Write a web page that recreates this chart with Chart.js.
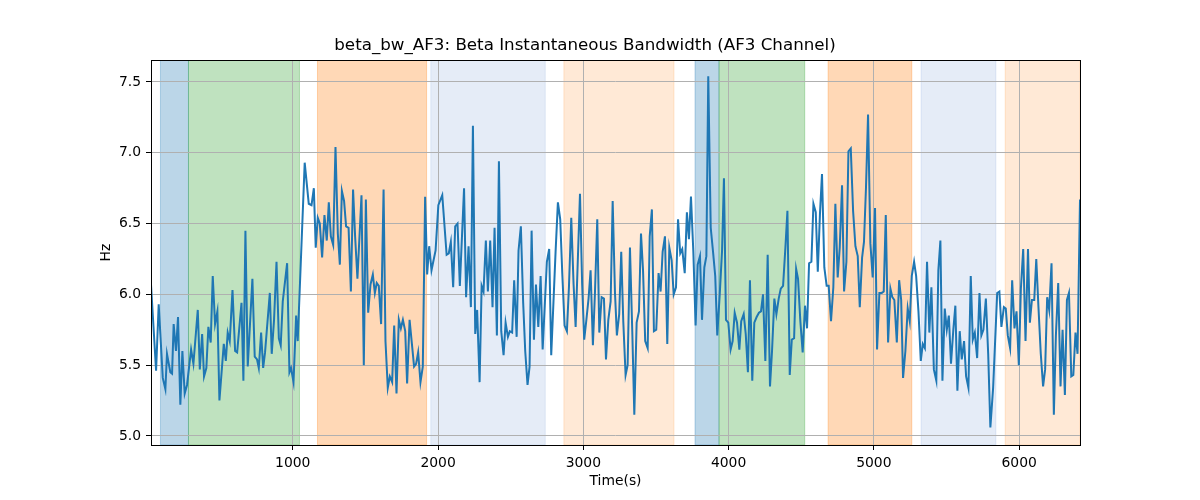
<!DOCTYPE html>
<html>
<head>
<meta charset="utf-8">
<script src="https://cdn.jsdelivr.net/npm/chart.js@4"></script>
<style>
  body { margin: 0; background: #fff; }
</style>
</head>
<body>
<canvas id="grafica" width="1200" height="500"></canvas>
<script>
// time (s) and bandwidth (Hz)
var times = [24, 59, 77, 105, 123, 134, 157, 169, 180, 196, 210, 226, 240, 256, 272, 300, 316, 346, 360, 376,
  389, 405, 419, 435, 449, 465, 481, 495, 525, 539, 552, 566, 585, 603, 617, 647, 660, 674, 690, 722,
  738, 754, 766, 782, 796, 809, 842, 855, 871, 888, 904, 917, 931, 961, 977, 988, 1005, 1023, 1034, 1082,
  1110, 1129, 1145, 1158, 1172, 1186, 1202, 1218, 1234, 1248, 1262, 1278, 1294, 1310, 1324, 1338, 1353, 1367, 1384, 1400,
  1415, 1429, 1445, 1473, 1489, 1503, 1519, 1535, 1551, 1565, 1578, 1592, 1608, 1625, 1638, 1654, 1668, 1684, 1698, 1714,
  1730, 1744, 1758, 1774, 1787, 1804, 1820, 1835, 1849, 1863, 1879, 1895, 1911, 1925, 1939, 1955, 1983, 2002, 2029, 2059,
  2074, 2088, 2104, 2118, 2134, 2150, 2179, 2193, 2210, 2226, 2240, 2256, 2269, 2286, 2300, 2313, 2329, 2343, 2359, 2375,
  2389, 2405, 2419, 2435, 2451, 2465, 2481, 2494, 2510, 2524, 2541, 2554, 2570, 2586, 2600, 2616, 2630, 2644, 2660, 2674,
  2690, 2706, 2720, 2749, 2765, 2779, 2809, 2825, 2841, 2855, 2871, 2887, 2901, 2917, 2933, 2947, 2977, 2992, 3006, 3020,
  3036, 3050, 3066, 3080, 3096, 3110, 3126, 3142, 3156, 3172, 3188, 3202, 3218, 3231, 3247, 3261, 3275, 3291, 3305, 3321,
  3337, 3351, 3367, 3383, 3397, 3411, 3426, 3443, 3457, 3472, 3486, 3502, 3518, 3532, 3546, 3562, 3578, 3592, 3608, 3622,
  3638, 3652, 3667, 3681, 3698, 3713, 3727, 3741, 3757, 3773, 3787, 3803, 3817, 3833, 3847, 3860, 3877, 3893, 3908, 3922,
  3939, 3955, 3968, 3982, 3998, 4014, 4028, 4042, 4058, 4074, 4087, 4104, 4118, 4133, 4147, 4163, 4177, 4193, 4209, 4223,
  4237, 4253, 4269, 4285, 4299, 4315, 4329, 4345, 4359, 4375, 4391, 4405, 4421, 4435, 4451, 4465, 4478, 4494, 4510, 4526,
  4540, 4554, 4570, 4584, 4600, 4614, 4629, 4643, 4659, 4675, 4689, 4705, 4721, 4735, 4751, 4765, 4781, 4795, 4811, 4825,
  4841, 4857, 4873, 4889, 4903, 4919, 4932, 4946, 4960, 4976, 4992, 5008, 5022, 5038, 5054, 5068, 5082, 5098, 5114, 5127,
  5141, 5158, 5174, 5188, 5201, 5217, 5233, 5247, 5261, 5277, 5291, 5307, 5323, 5337, 5351, 5366, 5382, 5396, 5413, 5430,
  5444, 5458, 5472, 5488, 5502, 5516, 5531, 5547, 5561, 5575, 5591, 5605, 5621, 5635, 5651, 5667, 5681, 5695, 5711, 5727,
  5740, 5754, 5771, 5787, 5802, 5821, 5849, 5864, 5878, 5895, 5908, 5922, 5938, 5952, 5968, 5982, 5998, 6012, 6028, 6044,
  6061, 6074, 6088, 6104, 6118, 6133, 6149, 6165, 6179, 6193, 6207, 6223, 6239, 6253, 6269, 6285, 6299, 6315, 6329, 6343,
  6359, 6373, 6388, 6402, 6419];
var values = [6.07, 5.46, 5.93, 5.41, 5.33, 5.58, 5.45, 5.44, 5.79, 5.60, 5.84, 5.22, 5.60, 5.30, 5.36, 5.61, 5.51, 5.89, 5.47, 5.72,
  5.42, 5.48, 5.77, 5.66, 6.13, 5.79, 5.88, 5.25, 5.65, 5.53, 5.73, 5.67, 6.03, 5.60, 5.59, 5.94, 5.39, 6.45, 5.49, 6.11,
  5.56, 5.54, 5.48, 5.73, 5.48, 5.59, 6.01, 5.58, 5.82, 6.23, 5.69, 5.64, 5.95, 6.22, 5.45, 5.48, 5.38, 5.85, 5.67, 6.93,
  6.64, 6.63, 6.75, 6.33, 6.54, 6.50, 6.26, 6.56, 6.38, 6.65, 6.41, 6.35, 7.04, 6.43, 6.21, 6.73, 6.66, 6.48, 6.47, 6.02,
  6.74, 6.41, 6.11, 6.70, 5.50, 6.67, 5.87, 6.07, 6.14, 6.01, 6.08, 6.06, 5.79, 6.74, 5.67, 5.34, 5.42, 5.38, 5.78, 5.30,
  5.82, 5.76, 5.82, 5.74, 5.37, 5.82, 5.65, 5.49, 5.51, 5.59, 5.38, 5.49, 6.69, 6.14, 6.34, 6.17, 6.31, 6.63, 6.70, 6.28,
  6.29, 6.37, 6.05, 6.48, 6.50, 6.06, 6.75, 5.98, 6.34, 5.91, 7.19, 5.72, 5.89, 5.38, 6.06, 6.02, 6.38, 6.02, 6.38, 5.91,
  6.47, 5.71, 6.94, 5.74, 5.57, 5.80, 5.70, 5.74, 5.73, 6.10, 5.70, 6.31, 6.48, 5.94, 5.60, 5.36, 5.49, 6.45, 5.68, 6.07,
  5.77, 6.13, 5.61, 6.23, 6.32, 5.57, 6.30, 6.65, 6.53, 6.15, 5.78, 5.74, 6.05, 6.54, 6.07, 5.77, 6.71, 6.07, 5.68, 5.81,
  5.97, 6.17, 5.64, 6.01, 6.53, 5.73, 5.98, 5.97, 5.54, 5.82, 5.95, 6.66, 6.01, 5.71, 5.86, 6.30, 5.81, 5.43, 5.50, 6.33,
  5.74, 5.15, 5.80, 5.88, 6.43, 6.17, 5.67, 5.62, 6.41, 6.60, 5.74, 5.75, 6.15, 6.02, 6.30, 6.41, 5.65, 6.33, 6.24, 6.00,
  6.05, 6.53, 6.29, 6.32, 6.15, 6.58, 6.39, 6.69, 6.31, 5.78, 6.21, 6.27, 5.82, 6.19, 6.27, 7.54, 6.47, 6.30, 6.13, 5.71,
  6.00, 6.31, 6.82, 5.82, 5.80, 5.61, 5.67, 5.87, 5.80, 5.61, 5.81, 5.86, 5.72, 5.45, 6.10, 5.39, 5.80, 5.84, 5.87, 5.88,
  6.00, 5.53, 6.28, 5.35, 5.60, 5.97, 5.86, 5.97, 6.04, 6.06, 6.33, 6.59, 5.43, 5.68, 5.69, 6.18, 6.11, 5.81, 5.59, 5.92,
  5.76, 6.22, 6.23, 6.64, 6.58, 6.16, 6.57, 6.85, 6.19, 6.06, 6.06, 5.81, 6.05, 6.64, 6.12, 6.33, 6.77, 6.02, 6.23, 7.01,
  7.03, 6.59, 6.34, 6.27, 5.91, 6.26, 6.37, 6.76, 7.27, 6.36, 6.12, 6.61, 5.61, 6.01, 6.01, 6.02, 6.56, 5.66, 6.04, 5.98,
  5.96, 5.66, 6.10, 5.96, 5.41, 5.60, 5.90, 5.81, 6.13, 6.23, 6.13, 5.88, 5.53, 5.65, 5.62, 6.23, 5.73, 6.05, 5.47, 5.39,
  6.17, 6.38, 5.39, 5.90, 5.75, 5.85, 5.51, 5.75, 5.92, 5.32, 5.74, 5.54, 5.67, 5.42, 5.34, 6.13, 5.68, 5.73, 5.55, 6.01,
  5.71, 5.75, 5.97, 5.58, 5.06, 5.34, 6.01, 6.02, 5.77, 5.91, 5.90, 5.71, 5.62, 6.10, 5.76, 5.88, 5.50, 6.04, 6.32, 5.67,
  6.32, 5.80, 5.96, 5.96, 6.25, 5.91, 5.58, 5.35, 5.47, 5.98, 5.89, 6.22, 5.15, 5.71, 6.08, 5.35, 5.75, 5.29, 5.96, 6.01,
  5.42, 5.43, 5.73, 5.58, 6.67];

var xTicks = [1000, 2000, 3000, 4000, 5000, 6000];
var yTicks = [5.0, 5.5, 6.0, 6.5, 7.0, 7.5];

// shaded segments
var spanStart = [89, 282, 1170, 1950, 2866, 3769, 3934, 4685, 5325, 5904];
var spanEnd = [282, 1046, 1921, 2738, 3624, 3934, 4524, 5261, 5840, 6419];
var spanColor = [
  'rgba(31, 119, 180, 0.3)',
  'rgba(44, 160, 44, 0.3)',
  'rgba(255, 127, 14, 0.3)',
  'rgba(100, 140, 210, 0.17)',
  'rgba(255, 127, 14, 0.17)',
  'rgba(31, 119, 180, 0.3)',
  'rgba(44, 160, 44, 0.3)',
  'rgba(255, 127, 14, 0.3)',
  'rgba(100, 140, 210, 0.17)',
  'rgba(255, 127, 14, 0.17)'
];

Chart.defaults.font.family = 'DejaVu Sans';
Chart.defaults.color = '#000';

var bandas = {
  id: 'bandas',
  beforeDraw: function (chart) {
    var c = chart.ctx, a = chart.chartArea, sx = chart.scales.x;
    c.save();
    c.beginPath();
    c.rect(a.left, a.top, a.right - a.left, a.bottom - a.top);
    c.clip();
    for (var i = 0; i < spanStart.length; i++) {
      var x1 = sx.getPixelForValue(spanStart[i]);
      var x2 = sx.getPixelForValue(spanEnd[i]);
      c.fillStyle = spanColor[i];
      c.fillRect(x1, a.top, x2 - x1, a.bottom - a.top);
      c.strokeStyle = spanColor[i];
      c.lineWidth = 1;
      c.strokeRect(x1, a.top, x2 - x1, a.bottom - a.top);
    }
    c.restore();
  }
};

var marco = {
  id: 'marco',
  afterDatasetsDraw: function (chart) {
    var c = chart.ctx, a = chart.chartArea;
    c.save();
    c.strokeStyle = '#000';
    c.lineWidth = 1;
    c.strokeRect(Math.round(a.left) + 0.5, Math.round(a.top) + 0.5,
      Math.round(a.right - a.left), Math.round(a.bottom - a.top));
    c.restore();
  }
};

var ctx = document.getElementById('grafica').getContext('2d');
var myChart = new Chart(ctx, {
  type: 'line',
  data: {
    datasets: [{
      label: 'beta_bw_AF3',
      data: times.map(function (t, i) { return { x: t, y: values[i] }; }),
      borderColor: '#1f77b4',
      borderWidth: 2,
      pointRadius: 0,
      fill: false,
      tension: 0
    }]
  },
  options: {
    responsive: false,
    animation: false,
    devicePixelRatio: 1,
    layout: { padding: { left: 90, right: 120, top: 0, bottom: 0 } },
    plugins: {
      legend: { display: false },
      tooltip: { enabled: false },
      title: {
        display: true,
        text: 'beta_bw_AF3: Beta Instantaneous Bandwidth (AF3 Channel)',
        color: '#000',
        font: { size: 16.7, weight: 'normal' },
        padding: { top: 36, bottom: 4 }
      }
    },
    scales: {
      x: {
        type: 'linear',
        min: 24,
        max: 6419,
        afterBuildTicks: function (s) { s.ticks = xTicks.map(function (v) { return { value: v }; }); },
        afterFit: function (s) { s.height = 55; },
        ticks: {
          autoSkip: false,
          maxRotation: 0,
          padding: 5,
          font: { size: 13.9 },
          callback: function (v) { return String(v); }
        },
        grid: { color: '#b0b0b0', lineWidth: 1, tickLength: 5, tickColor: '#000' },
        border: { display: false },
        title: { display: true, text: 'Time(s)', font: { size: 13.9 }, padding: { top: 0, bottom: 10.6 } }
      },
      y: {
        type: 'linear',
        min: 4.936,
        max: 7.655,
        afterBuildTicks: function (s) { s.ticks = yTicks.map(function (v) { return { value: v }; }); },
        afterFit: function (s) { s.width = 61; },
        ticks: {
          autoSkip: false,
          padding: 5,
          font: { size: 13.9 },
          callback: function (v) { return v.toFixed(1); }
        },
        grid: { color: '#b0b0b0', lineWidth: 1, tickLength: 5, tickColor: '#000' },
        border: { display: false },
        title: { display: true, text: 'Hz', font: { size: 13.9 }, padding: { top: 7.6, bottom: 0 } }
      }
    }
  },
  plugins: [bandas, marco]
});
</script>
</body>
</html>
